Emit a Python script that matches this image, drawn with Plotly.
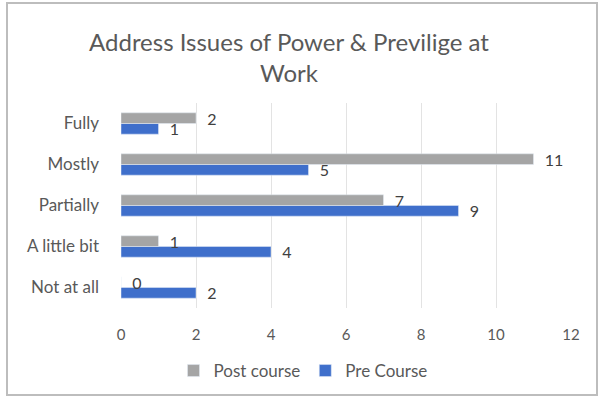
import plotly.graph_objects as go

categories = ["Not at all", "A little bit", "Partially", "Mostly", "Fully"]
pre_course = [2, 4, 9, 5, 1]
post_course = [0, 1, 7, 11, 2]
x_ticks = [0, 2, 4, 6, 8, 10, 12]

font_fam = "Lato, 'Open Sans', Arial, sans-serif"
txt_col = "#595959"

L, R, T, B = 121, 32, 103, 94
PW, PH = 603 - L - R, 402 - T - B

fig = go.Figure()
fig.add_trace(go.Bar(
    y=categories, x=pre_course, orientation="h", name="Pre Course",
    marker_color="#3F6FCB", text=pre_course, texttemplate="  %{x}",
    textposition="outside", constraintext="none",
    textfont=dict(size=16, color="#404040"), cliponaxis=False,
))
fig.add_trace(go.Bar(
    y=categories, x=post_course, orientation="h", name="Post course",
    marker_color="#A5A5A5", text=post_course, texttemplate="  %{x}",
    textposition="outside", constraintext="none",
    textfont=dict(size=16, color="#404040"), cliponaxis=False,
))

fig.update_layout(
    width=603, height=402,
    paper_bgcolor="white", plot_bgcolor="white",
    barmode="group", bargap=0.48, bargroupgap=0,
    margin=dict(l=L, r=R, t=T, b=B, autoexpand=False),
    font=dict(family=font_fam, color=txt_col, size=16),
    title=dict(text="Address Issues of Power & Previlige at<br>Work",
               x=289 / 603, xanchor="center",
               y=1 - 51 / 402, yanchor="middle",
               font=dict(size=24, color=txt_col, family=font_fam)),
    showlegend=True,
    legend=dict(orientation="h", x=(303 - L) / PW, xanchor="center",
                y=(308 - 371) / PH, yanchor="middle",
                traceorder="reversed", font=dict(size=17, color=txt_col),
                itemwidth=30),
    xaxis=dict(range=[0, 12], tickvals=x_ticks, showgrid=True, gridcolor="#E3E3E3",
               gridwidth=1, zeroline=False, showline=False, ticks="",
               automargin=False,
               tickfont=dict(size=15, color=txt_col), ticklabelstandoff=16),
    yaxis=dict(categoryorder="array", categoryarray=categories, showgrid=False,
               showline=False, ticks="", automargin=False,
               tickfont=dict(size=17, color=txt_col), ticklabelstandoff=21),
    shapes=[dict(type="rect", xref="paper", yref="paper",
                 x0=(7 - L) / PW, x1=(597 - L) / PW,
                 y0=(308 - 395) / PH, y1=(308 - 3) / PH,
                 line=dict(color="#BDBDBD", width=2))],
)
fig.write_html("out.html", config={"displayModeBar": False},
               post_script="document.body.style.margin='0';")
